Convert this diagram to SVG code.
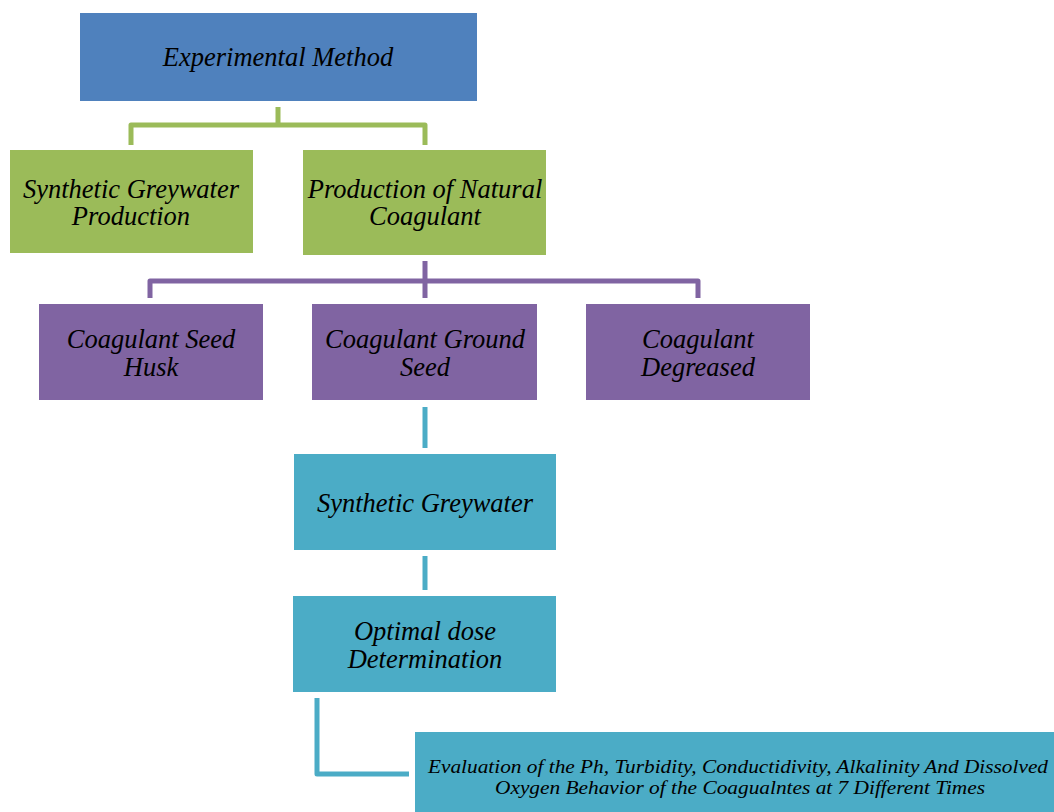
<svg xmlns="http://www.w3.org/2000/svg" width="1054" height="812" viewBox="0 0 1054 812">
<style>
.t{font-family:"Liberation Serif","Times New Roman",serif;font-style:italic;font-size:26.5px;fill:#000;text-anchor:middle}
.s{font-family:"Liberation Serif","Times New Roman",serif;font-style:italic;font-size:19px;fill:#000;text-anchor:middle}
.c{fill:none;stroke-width:5;stroke-linejoin:round}
</style>
<rect width="1054" height="812" fill="#fff"/>
<g id="connectors">
<path class="c" stroke="#9BBB59" d="M278,107V125M131,145V125H425V145"/>
<path class="c" stroke="#8064A2" d="M425,261V298M150,298V281H698V298"/>
<path class="c" stroke="#4BACC6" d="M425,407V448"/>
<path class="c" stroke="#4BACC6" d="M425,556V590"/>
<path class="c" stroke="#4BACC6" d="M317,698V774H409"/>
</g>
<g id="n1"><rect x="80" y="13" width="397" height="88" fill="#4F81BD"/><text class="t" x="278" y="66">Experimental Method</text></g>
<g id="n2"><rect x="10" y="150" width="243" height="103" fill="#9BBB59"/><text class="t" x="131" y="198">Synthetic Greywater</text><text class="t" x="131" y="225">Production</text></g>
<g id="n3"><rect x="303" y="150" width="243" height="105" fill="#9BBB59"/><text class="t" x="425" y="198">Production of Natural</text><text class="t" x="425" y="225">Coagulant</text></g>
<g id="n4"><rect x="39" y="304" width="224" height="96" fill="#8064A2"/><text class="t" x="151" y="348">Coagulant Seed</text><text class="t" x="151" y="376">Husk</text></g>
<g id="n5"><rect x="312" y="304" width="225" height="96" fill="#8064A2"/><text class="t" x="425" y="348">Coagulant Ground</text><text class="t" x="425" y="376">Seed</text></g>
<g id="n6"><rect x="586" y="304" width="224" height="96" fill="#8064A2"/><text class="t" x="698" y="348">Coagulant</text><text class="t" x="698" y="376">Degreased</text></g>
<g id="n7"><rect x="294" y="454" width="262" height="96" fill="#4BACC6"/><text class="t" x="425" y="512">Synthetic Greywater</text></g>
<g id="n8"><rect x="293" y="596" width="263" height="96" fill="#4BACC6"/><text class="t" x="425" y="640">Optimal dose</text><text class="t" x="425" y="668">Determination</text></g>
<g id="n9"><rect x="415" y="732" width="645" height="82" fill="#4BACC6"/><text class="s" x="738" y="773" textLength="620" lengthAdjust="spacingAndGlyphs">Evaluation of the Ph, Turbidity, Conductidivity, Alkalinity And Dissolved</text><text class="s" x="740" y="794" textLength="490" lengthAdjust="spacingAndGlyphs">Oxygen Behavior of the Coagualntes at 7 Different Times</text></g>
</svg>
